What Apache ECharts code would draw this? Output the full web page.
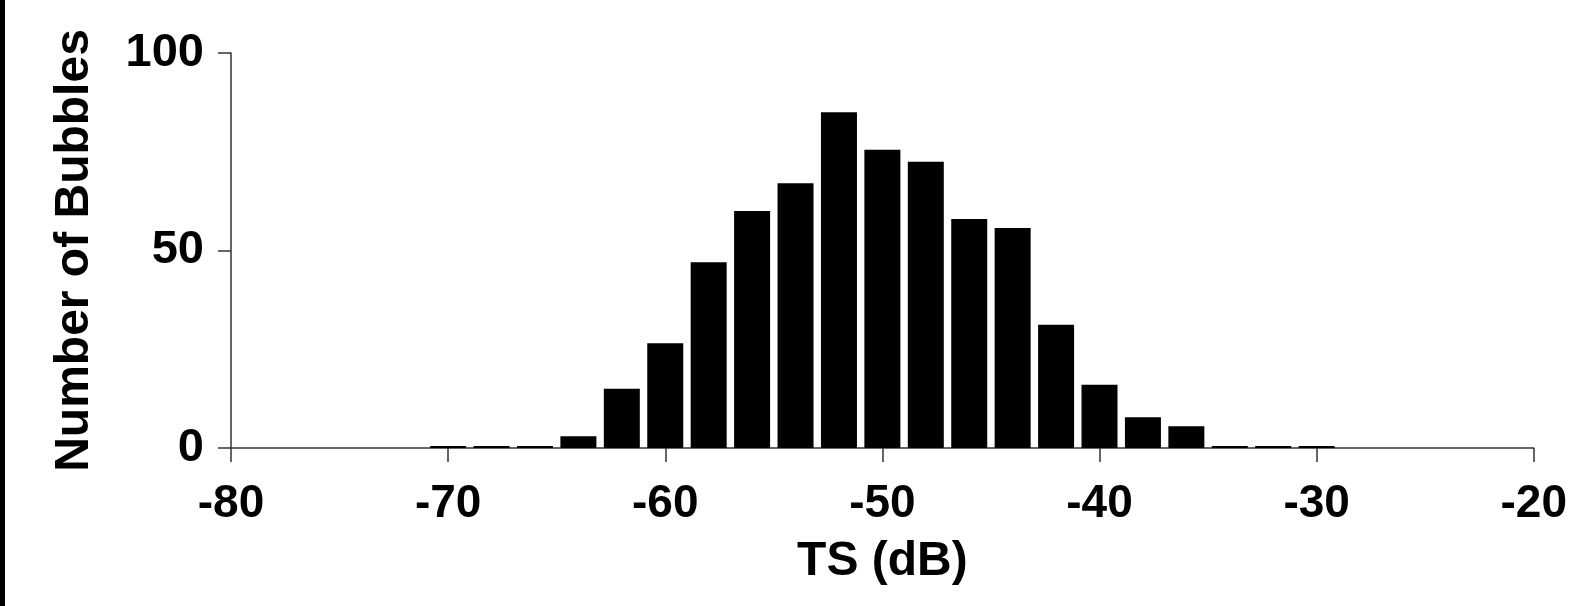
<!DOCTYPE html>
<html>
<head>
<meta charset="utf-8">
<script src="https://cdn.jsdelivr.net/npm/echarts@6/dist/echarts.min.js"></script>
<style>
html, body { margin: 0; padding: 0; background: #fff; }
#hist { width: 1570px; height: 606px; }
</style>
</head>
<body>
<div id="hist"></div>
<script>
// bin centres (dB) and counts
var binCenters = [-70, -68, -66, -64, -62, -60, -58, -56, -54, -52, -50, -48, -46, -44, -42, -40, -38, -36, -34, -32, -30];
var bubbleCounts = [0, 0, 0, 3, 15, 26.5, 47, 60, 67, 85, 75.5, 72.5, 58, 55.7, 31.2, 16, 7.8, 5.5, 0, 0, 0];
var xTicks = [-80, -70, -60, -50, -40, -30, -20];
var yTicks = [0, 50, 100];

var dom = document.getElementById("hist");
var myChart = echarts.init(dom);
var option = null;

var barData = [];
for (var i = 0; i < binCenters.length; i++) {
	barData.push([binCenters[i], bubbleCounts[i]]);
}

var font = 'Liberation Sans';

option = {
	animation: false,
	backgroundColor: '#fff',
	grid: {
		left: 231,
		right: 29,
		top: 53,
		bottom: 158
	},
	xAxis: {
		type: 'value',
		min: xTicks[0],
		max: xTicks[xTicks.length - 1],
		interval: 10,
		name: 'TS (dB)',
		nameLocation: 'middle',
		nameGap: 90,
		nameTextStyle: { color: '#000', fontFamily: font, fontWeight: 'bold', fontSize: 48 },
		splitLine: { show: false },
		axisLine: { onZero: false, lineStyle: { color: '#333', width: 1.5 } },
		axisTick: { length: 14, lineStyle: { color: '#333', width: 1.5 } },
		axisLabel: { color: '#000', fontFamily: font, fontWeight: 'bold', fontSize: 46, margin: 33 }
	},
	yAxis: {
		type: 'value',
		min: yTicks[0],
		max: yTicks[yTicks.length - 1],
		interval: 50,
		name: 'Number of Bubbles',
		nameLocation: 'middle',
		nameGap: 132,
		nameTextStyle: { color: '#000', fontFamily: font, fontWeight: 'bold', fontSize: 48 },
		splitLine: { show: false },
		axisLine: { show: true, lineStyle: { color: '#333', width: 1.5 } },
		axisTick: { show: true, length: 13, lineStyle: { color: '#333', width: 1.5 } },
		axisLabel: { color: '#000', fontFamily: font, fontWeight: 'bold', fontSize: 47, margin: 27 }
	},
	graphic: [{
		type: 'rect',
		left: 0,
		top: 0,
		shape: { width: 5, height: 606 },
		style: { fill: '#000' }
	}],
	series: [{
		type: 'bar',
		data: barData,
		barWidth: 36,
		barMinHeight: 2,
		itemStyle: { color: '#000' }
	}]
};
if (option && typeof option === "object") {
	myChart.setOption(option, true);
}
</script>
</body>
</html>
